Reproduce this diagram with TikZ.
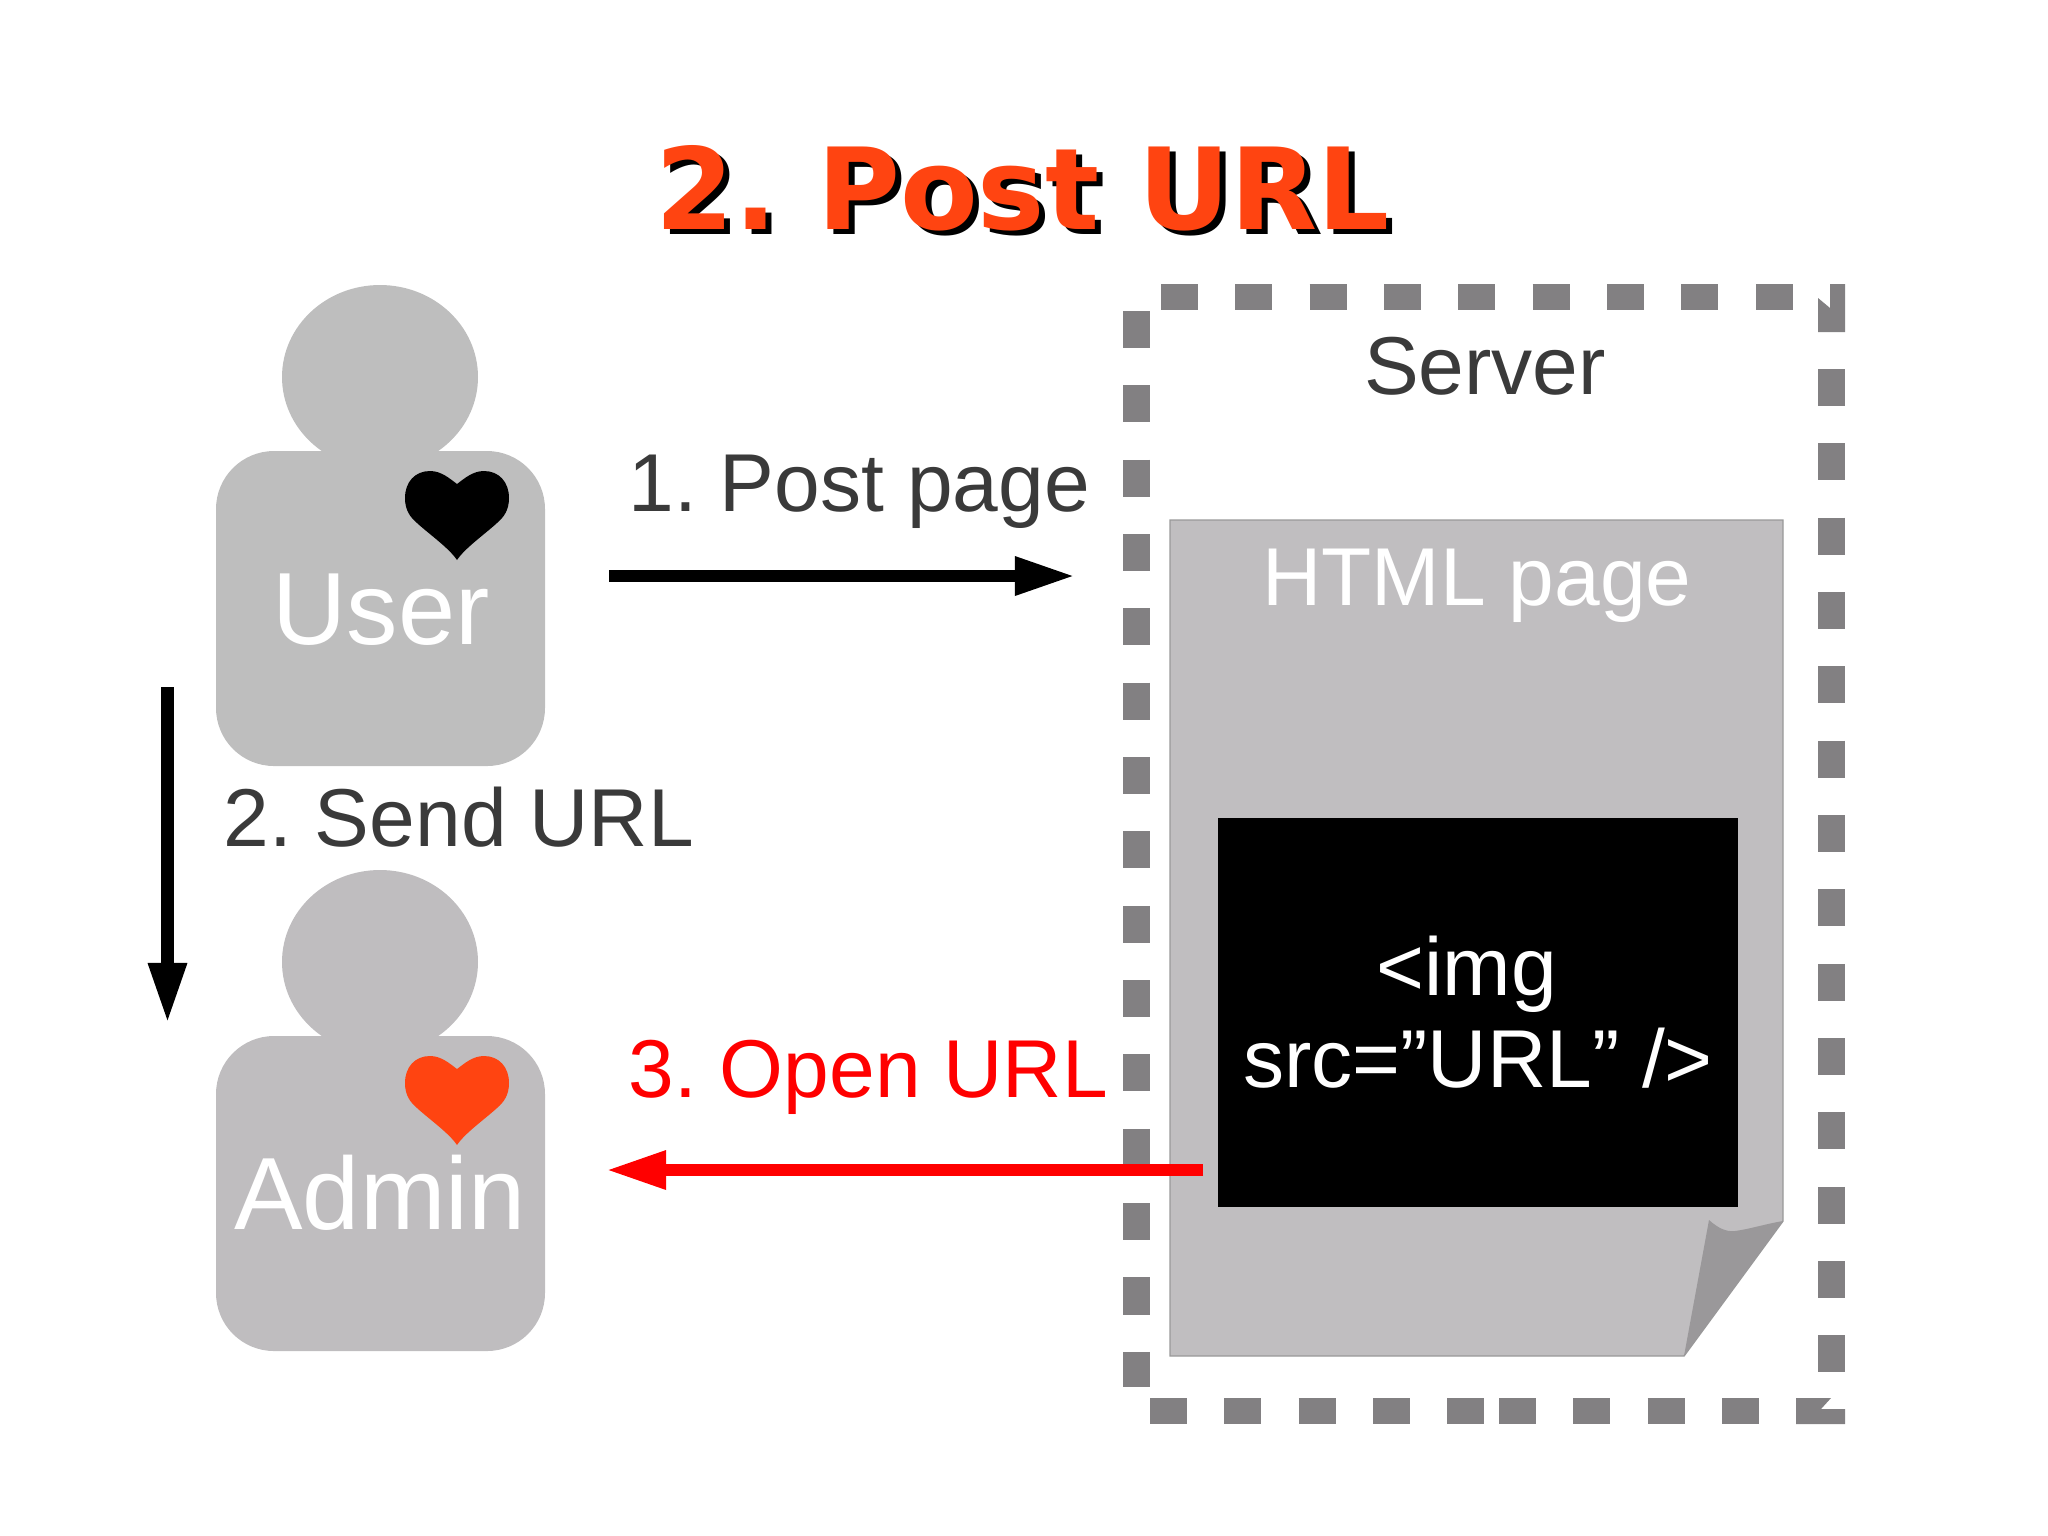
\documentclass[tikz,border=0pt]{standalone}
\usepackage{fontspec}
\setmainfont{Liberation Sans}
\newfontfamily\titlefont{DejaVu Sans}
\usepackage{xcolor}
\usetikzlibrary{arrows.meta}
\definecolor{dashgray}{HTML}{828082}
\definecolor{pagegray}{HTML}{C0BEC0}
\definecolor{foldgray}{HTML}{9A989A}
\definecolor{usergray}{HTML}{BEBEBE}
\definecolor{admingray}{HTML}{BFBDBF}
\definecolor{labelgray}{HTML}{3A3A3A}
\definecolor{heartred}{HTML}{FF4411}
\frenchspacing
\tikzset{
    label80/.style={inner sep=0pt, anchor=base, font=\fontsize{23.35pt}{26.2pt}\selectfont},
    label100/.style={inner sep=0pt, anchor=base, text=white, font=\fontsize{29.2pt}{30pt}\selectfont},
    titletext/.style={inner sep=0pt, anchor=base, font=\titlefont\bfseries\fontsize{32.2pt}{36pt}\selectfont},
    srvdash/.style={draw=dashgray, line width=0.265cm, dash pattern=on 0.37cm off 0.373cm},
    flow/.style={line width=0.12cm, -{Triangle[length=0.6cm,width=0.36cm]}},
    person/.pic={
        \fill[pic actions] (380,377) ellipse (98 and 92);
        \fill[pic actions, rounded corners=0.58cm] (216,451) rectangle (545,766);
    },
    heart/.pic={
        \fill[pic actions] (0,0) .. controls (8,-6) and (16,-13) .. (27,-13)
            .. controls (42,-13) and (52,-2) .. (52,14)
            .. controls (52,26) and (47,33) .. (40,39)
            .. controls (28,50) and (8,64) .. (0,76)
            .. controls (-8,64) and (-28,50) .. (-40,39)
            .. controls (-47,33) and (-52,26) .. (-52,14)
            .. controls (-52,-2) and (-42,-13) .. (-27,-13)
            .. controls (-16,-13) and (-8,-6) .. (0,0) -- cycle;
    }
}
\begin{document}
\begin{tikzpicture}[x=0.01cm, y=-0.01cm]
    \useasboundingbox (0,0) rectangle (2048,1535);
    \node[titletext, text=black] (titleshadow) at (1029,234) {2. Post URL};
    \node[titletext, text=heartred] (title) at (1023,229) {2. Post URL};
    % people
    \pic[usergray] at (0,0) {person};
    \pic[admingray] at (0,585) {person};
    \pic[black] at (457,484) {heart};
    \pic[heartred] at (457,1069) {heart};
    \node[label100] (user) at (381,644) {User};
    \node[label100] (admin) at (380,1229) {Admin};
    % server box
    \draw[srvdash] (1136.5,311) -- (1136.5,1387);
    \draw[srvdash] (1161,297) -- (1793,297);
    \draw[srvdash] (1831.5,369) -- (1831.5,1372);
    \draw[srvdash] (1150,1411) -- (1485,1411);
    \draw[srvdash] (1499,1411) -- (1759,1411);
    \fill[dashgray] (1830,284) -- (1845,284) -- (1845,332) -- (1818,332) -- (1818,298) -- (1830,308) -- cycle;
    \fill[dashgray] (1796,1398) -- (1831,1398) -- (1821,1409) -- (1845,1409) -- (1845,1424) -- (1796,1424) -- cycle;
    \node[label80, text=labelgray] (server) at (1485,394) {Server};
    % page
    \draw[fill=pagegray, draw=gray!80, line width=0.4pt] (1170,520) -- (1783,520) -- (1783,1221) -- (1684,1356) -- (1170,1356) -- cycle;
    \fill[foldgray] (1684,1356) -- (1709,1220) .. controls (1718,1228) and (1726,1232) .. (1735,1231) .. controls (1750,1229) and (1765,1224) .. (1783,1221) -- cycle;
    \node[label80, text=white] (htmlpage) at (1477,605) {HTML page};
    \fill[black] (1218,818) rectangle (1738,1207);
    \node[label80, text=white, anchor=center, align=center] (imgtag) at (1478,1012) {<img\ \mbox{}\\ src=”URL” />};
    % steps
    \coordinate (postfrom) at (609,576);
    \coordinate (postto) at (1075,576);
    \coordinate (sendfrom) at (167.5,687);
    \coordinate (sendto) at (167.5,1023);
    \coordinate (openfrom) at (1203,1170);
    \coordinate (opento) at (606,1170);
    \draw[flow, black] (postfrom) -- (postto);
    \draw[flow, black] (sendfrom) -- (sendto);
    \draw[flow, red] (openfrom) -- (opento);
    \node[label80, text=labelgray, anchor=base west] (postlabel) at (628,511) {1. Post page};
    \node[label80, text=labelgray, anchor=base west] (sendlabel) at (223,846) {2. Send URL};
    \node[label80, text=red, anchor=base west] (openlabel) at (628,1097) {3. Open URL};
\end{tikzpicture}
\end{document}
